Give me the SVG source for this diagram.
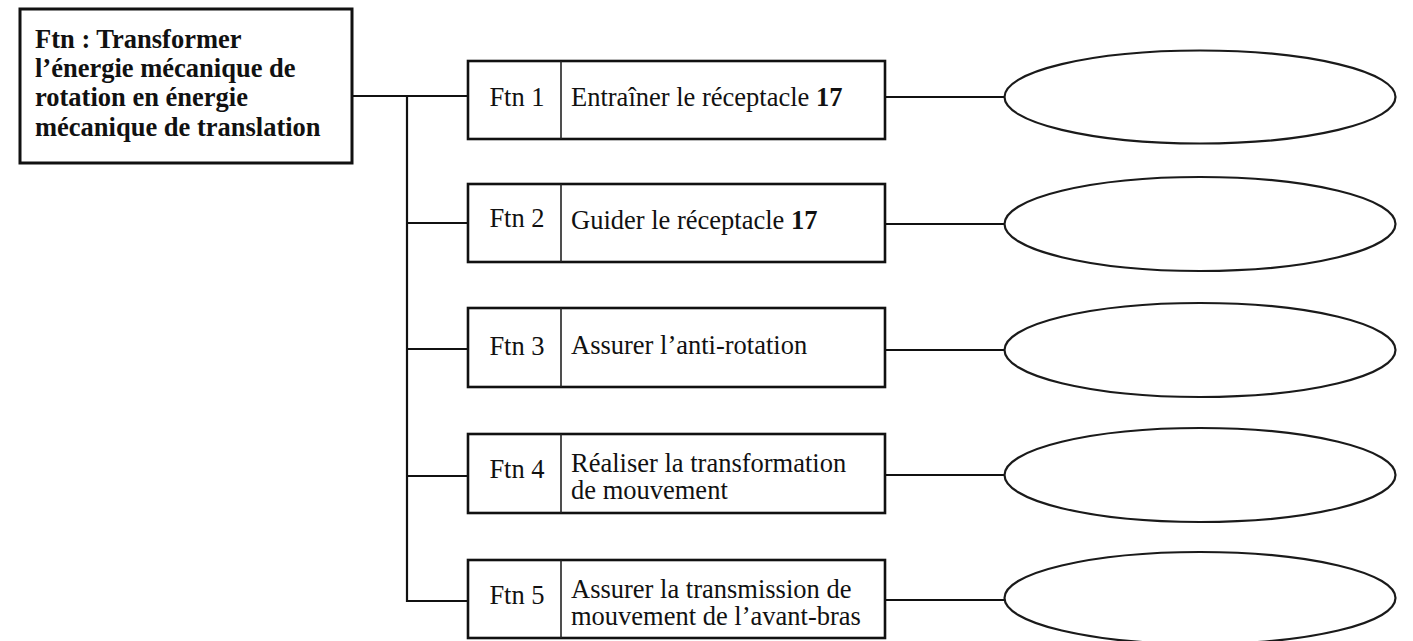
<svg xmlns="http://www.w3.org/2000/svg" width="1413" height="641" viewBox="0 0 1413 641">
<style>
.box{fill:#fff;stroke:#111;stroke-width:2.6}
.main{fill:#fff;stroke:#111;stroke-width:3}
.div{stroke:#222;stroke-width:1.6}
.ell{fill:#fff;stroke:#1a1a1a;stroke-width:2.2}
.ln{stroke:#111;stroke-width:2.2;fill:none}
text{font-family:"Liberation Serif","Times New Roman",serif;font-size:26.5px;fill:#111}
.b{font-weight:bold}
.c{text-anchor:middle}
</style>
<rect width="1413" height="641" fill="#fff"/>
<g id="connectors">
<polyline class="ln" points="352,96 468,96"/>
<polyline class="ln" points="407,96 407,601 468,601"/>
<line class="ln" x1="407" y1="223" x2="468" y2="223"/>
<line class="ln" x1="407" y1="349" x2="468" y2="349"/>
<line class="ln" x1="407" y1="476" x2="468" y2="476"/>
<line class="ln" x1="885" y1="97" x2="1004" y2="97"/>
<line class="ln" x1="885" y1="224" x2="1004" y2="224"/>
<line class="ln" x1="885" y1="350" x2="1004" y2="350"/>
<line class="ln" x1="885" y1="475" x2="1004" y2="475"/>
<line class="ln" x1="885" y1="600" x2="1004" y2="600"/>
</g>
<g id="ftn">
<rect class="main" x="20" y="9" width="332" height="154"/>
<text class="b" x="35" y="48">Ftn : Transformer</text>
<text class="b" x="35" y="77">l’énergie mécanique de</text>
<text class="b" x="35" y="106">rotation en énergie</text>
<text class="b" x="35" y="136">mécanique de translation</text>
</g>
<g id="ftn1">
<rect class="box" x="468" y="61" width="417" height="78"/>
<line class="div" x1="561" y1="61" x2="561" y2="139"/>
<text class="c" x="517" y="106">Ftn 1</text>
<text x="571" y="106">Entraîner le réceptacle <tspan class="b">17</tspan></text>
</g>
<g id="ftn2">
<rect class="box" x="468" y="184" width="417" height="78"/>
<line class="div" x1="561" y1="184" x2="561" y2="262"/>
<text class="c" x="517" y="227">Ftn 2</text>
<text x="571" y="229">Guider le réceptacle <tspan class="b">17</tspan></text>
</g>
<g id="ftn3">
<rect class="box" x="468" y="308" width="417" height="79"/>
<line class="div" x1="561" y1="308" x2="561" y2="387"/>
<text class="c" x="517" y="355">Ftn 3</text>
<text x="571" y="354">Assurer l’anti-rotation</text>
</g>
<g id="ftn4">
<rect class="box" x="468" y="434" width="417" height="79"/>
<line class="div" x1="561" y1="434" x2="561" y2="513"/>
<text class="c" x="517" y="478">Ftn 4</text>
<text x="571" y="472">Réaliser la transformation</text>
<text x="571" y="499">de mouvement</text>
</g>
<g id="ftn5">
<rect class="box" x="468" y="560" width="417" height="78"/>
<line class="div" x1="561" y1="560" x2="561" y2="638"/>
<text class="c" x="517" y="604">Ftn 5</text>
<text x="571" y="598">Assurer la transmission de</text>
<text x="571" y="625">mouvement de l’avant-bras</text>
</g>
<g id="sol1"><ellipse class="ell" cx="1200" cy="97" rx="195.5" ry="46.5"/></g>
<g id="sol2"><ellipse class="ell" cx="1200" cy="224" rx="195.5" ry="47"/></g>
<g id="sol3"><ellipse class="ell" cx="1200" cy="350" rx="195.5" ry="47"/></g>
<g id="sol4"><ellipse class="ell" cx="1200" cy="475" rx="195.5" ry="47"/></g>
<g id="sol5"><ellipse class="ell" cx="1200" cy="598" rx="195.5" ry="46"/></g>
</svg>
